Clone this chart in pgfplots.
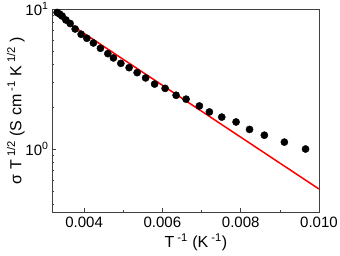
\documentclass[border=0pt]{standalone}
\usepackage{pgfplots}
\pgfplotsset{compat=1.18}
\usepackage{fontspec}
\setmainfont{Liberation Sans}
\begin{document}
\begin{tikzpicture}
\useasboundingbox (-52pt,-44pt) rectangle (288pt,212pt);
\begin{axis}[
  at={(0,0)}, anchor=south west,
  scale only axis, width=267pt, height=203pt,
  ymode=log,
  xmin=0.00318, xmax=0.0100,
  ymin=0.355, ymax=10,
  xtick={0.004,0.006,0.008,0.010},
  xticklabels={0.004,0.006,0.008,0.010},
  minor xtick={0.005,0.007,0.009},
  ytick={1,10},
  yticklabels={10\textsuperscript{0},10\textsuperscript{1}},
  minor ytick={0.4,0.5,0.6,0.7,0.8,0.9,2,3,4,5,6,7,8,9},
  tick pos=left,
  tick align=inside,
  major tick length=4pt,
  minor tick length=2.5pt,
  axis line style={black!75, line width=0.8pt},
  every tick/.style={black!75, line width=0.6pt},
  tick label style={font=\fontsize{15}{18}\selectfont},
  xticklabel style={yshift=-1pt},
  scaled x ticks=false,
  xlabel={T\textsuperscript{ -1} (K\textsuperscript{ -1})},
  ylabel={σ T\textsuperscript{ 1/2} (S cm\textsuperscript{ -1} K\textsuperscript{ 1/2} )},
  label style={font=\fontsize{16}{19}\selectfont},
  xlabel style={at={(axis description cs:0.539,-0.15)}, anchor=center},
  ylabel style={at={(axis description cs:-0.135,0.5)}, anchor=center},
  clip=false,
]
\addplot[only marks, mark=*, mark size=3.6pt, black] coordinates {
(0.00331,9.44) (0.003375,9.21) (0.003439,8.91) (0.003534,8.35)
(0.003643,7.88) (0.003771,7.20) (0.003924,6.60) (0.00407,6.18)
(0.004238,5.72) (0.004417,5.24) (0.004606,4.80) (0.004749,4.47)
(0.004938,4.09) (0.00515,3.81) (0.005354,3.51) (0.005571,3.22)
(0.005801,2.91) (0.006069,2.71) (0.00635,2.42) (0.006605,2.27)
(0.006944,2.03) (0.0072,1.84) (0.007516,1.69) (0.007882,1.56)
(0.008226,1.38) (0.008604,1.255) (0.009115,1.12) (0.009656,1.00)
};
\addplot[red, line width=1.5pt] coordinates {(0.00329,9.06) (0.0100,0.518)};
\end{axis}
\end{tikzpicture}
\end{document}
